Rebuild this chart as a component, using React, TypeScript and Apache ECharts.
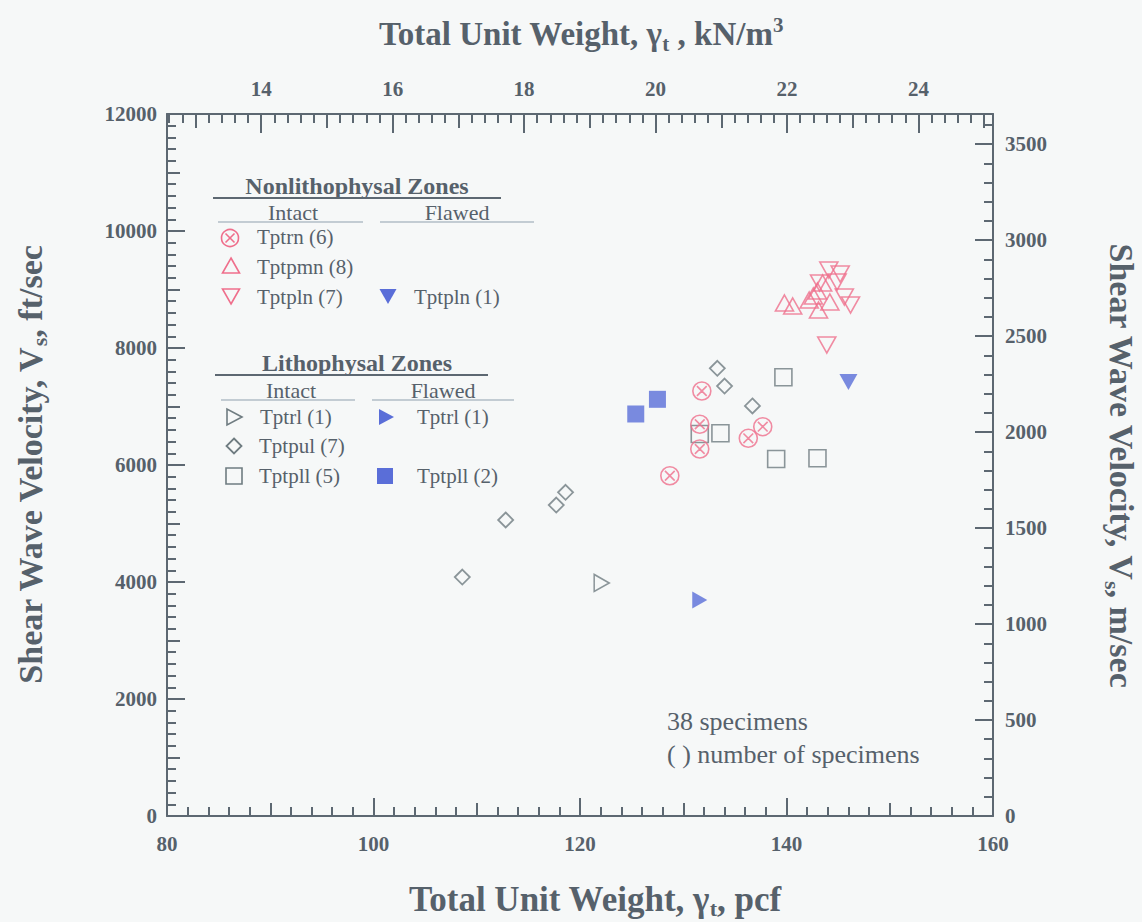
import React, { useEffect, useRef } from "react";
import * as echarts from "echarts";

// unit conversions
const PCF_TO_KN = 0.1570875;
const FTS_TO_MS = 0.3048;

// axis ranges / labels
const X_MIN = 80;
const X_MAX = 160;
const Y_MIN = 0;
const Y_MAX = 12000;
const BOTTOM_LABELS = [80, 100, 120, 140, 160];
const TOP_LABELS = [14, 16, 18, 20, 22, 24];
const TOP_MEDIUM = [13, 14, 15, 16, 17, 18, 19, 20, 21, 22, 23, 24, 25];
const RIGHT_LABELS = [0, 500, 1000, 1500, 2000, 2500, 3000, 3500];

// data: [total unit weight (pcf), shear wave velocity (ft/sec)]
const tptrnIntact = [
  [131.8, 7265], [131.6, 6696], [131.6, 6273], [136.3, 6456], [137.7, 6655], [128.7, 5817],
];
const tptpmnIntact = [
  [139.8, 8769], [140.6, 8718], [142.2, 8821], [143.1, 8650], [143.0, 8974], [144.2, 8786],
  [143.5, 9111], [142.6, 8889],
];
const tptplnIntact = [
  [144.1, 9333], [145.2, 9265], [145.6, 8872], [146.2, 8735], [143.9, 8051], [144.9, 9128],
  [143.2, 9111],
];
const tptplnFlawed = [[146.0, 7419]];
const tptrlIntact = [[122.1, 3983]];
const tptrlFlawed = [[131.6, 3692]];
const tptpulIntact = [
  [108.6, 4085], [112.8, 5060], [117.7, 5316], [118.6, 5533], [133.3, 7653], [134.0, 7350],
  [136.7, 7009],
];
const tptpllIntact = [[139.7, 7499], [131.6, 6530], [133.6, 6542], [139.0, 6103], [143.0, 6115]];
const tptpllFlawed = [[127.5, 7123], [125.4, 6872]];

const PINK = "#ef6f8c";
const GRAY = "#6f7c81";
const BLUE = "#5a6ed8";
const TEXT = "#56616b";
const AXIS = "#5d6872";
const BG = "#f6f8f8";
const FONT = "'Liberation Serif', 'Times New Roman', serif";
const CLEAR = "rgba(0,0,0,0)";

const CIRCLE_X =
  "path://M10 0A10 10 0 1 1 10 20A10 10 0 1 1 10 0ZM4.6 4.6L15.4 15.4M15.4 4.6L4.6 15.4";

function range(a: number, b: number, step: number) {
  const out: number[] = [];
  for (let i = Math.round(a / step); i <= Math.round(b / step); i++) out.push(+(i * step).toFixed(4));
  return out;
}

export default function App() {
  const ref = useRef<HTMLDivElement>(null);

  useEffect(() => {
    if (!ref.current) return;
    const chart = echarts.init(ref.current, undefined, { renderer: "svg" });

    const kMin = X_MIN * PCF_TO_KN;
    const kMax = X_MAX * PCF_TO_KN;
    const topMinor = range(12.6, 25.0, 0.2);
    const msMax = Y_MAX * FTS_TO_MS;

    const labelStyle = { fontFamily: FONT, fontWeight: "bold" as const, fontSize: 21, color: TEXT };
    const line = { show: true, onZero: false, lineStyle: { color: AXIS, width: 2 } };
    const noLine = { show: false, onZero: false };

    const xAxis: any[] = [
      {
        type: "value", position: "bottom", min: X_MIN, max: X_MAX, interval: 20,
        axisLine: line,
        axisTick: { inside: true, length: 18, lineStyle: { color: AXIS, width: 2 } },
        minorTick: { show: true, splitNumber: 10, length: 9, lineStyle: { color: AXIS, width: 2 } },
        axisLabel: { ...labelStyle, margin: 17, formatter: (v: number) => (BOTTOM_LABELS.includes(v) ? String(v) : "") },
        splitLine: { show: false }, minorSplitLine: { show: false },
      },
      {
        type: "value", position: "bottom", min: X_MIN, max: X_MAX, interval: 10,
        axisLine: noLine,
        axisTick: { inside: true, length: 13, lineStyle: { color: AXIS, width: 2 } },
        axisLabel: { show: false }, splitLine: { show: false },
      },
      {
        type: "value", position: "top", min: kMin, max: kMax,
        axisLine: line,
        axisTick: { inside: true, length: 9, customValues: topMinor, lineStyle: { color: AXIS, width: 2 } },
        axisLabel: { show: false }, splitLine: { show: false },
      },
      {
        type: "value", position: "top", min: kMin, max: kMax,
        axisLine: noLine,
        axisTick: { inside: true, length: 14, customValues: TOP_MEDIUM, lineStyle: { color: AXIS, width: 2 } },
        axisLabel: { show: false }, splitLine: { show: false },
      },
      {
        type: "value", position: "top", min: kMin, max: kMax,
        axisLine: noLine,
        axisTick: { inside: true, length: 19, customValues: TOP_LABELS, lineStyle: { color: AXIS, width: 2 } },
        axisLabel: { ...labelStyle, margin: 15, customValues: TOP_LABELS },
        splitLine: { show: false },
      },
    ];

    const yAxis: any[] = [
      {
        type: "value", position: "left", min: Y_MIN, max: Y_MAX, interval: 2000,
        axisLine: line,
        axisTick: { inside: true, length: 18, lineStyle: { color: AXIS, width: 2 } },
        minorTick: { show: true, splitNumber: 10, length: 9, lineStyle: { color: AXIS, width: 2 } },
        axisLabel: { ...labelStyle, margin: 10, formatter: (v: number) => String(v) },
        splitLine: { show: false }, minorSplitLine: { show: false },
      },
      {
        type: "value", position: "left", min: Y_MIN, max: Y_MAX, interval: 1000,
        axisLine: noLine,
        axisTick: { inside: true, length: 13, lineStyle: { color: AXIS, width: 2 } },
        axisLabel: { show: false }, splitLine: { show: false },
      },
      {
        type: "value", position: "right", min: 0, max: msMax, interval: 100,
        axisLine: line,
        axisTick: { inside: true, length: 9, lineStyle: { color: AXIS, width: 2 } },
        axisLabel: {
          ...labelStyle, margin: 12,
          formatter: (v: number) =>
            RIGHT_LABELS.includes(Math.round(v)) && Math.abs(v - Math.round(v)) < 1e-6 ? String(Math.round(v)) : "",
        },
        splitLine: { show: false },
      },
      {
        type: "value", position: "right", min: 0, max: msMax, interval: 500,
        axisLine: noLine,
        axisTick: { inside: true, length: 18, lineStyle: { color: AXIS, width: 2 } },
        axisLabel: { show: false }, splitLine: { show: false },
      },
    ];

    const open = (c: string, w = 1.6) => ({ color: CLEAR, borderColor: c, borderWidth: w });
    const filled = (c: string) => ({ color: c, borderColor: c, borderWidth: 0 });

    const series: any[] = [
      { name: "Tptpul (7)", data: tptpulIntact, symbol: "diamond", symbolSize: 15, itemStyle: open(GRAY, 1.8) },
      { name: "Tptpll (5)", data: tptpllIntact, symbol: "rect", symbolSize: 17, itemStyle: open(GRAY, 1.6) },
      { name: "Tptpll (2)", data: tptpllFlawed, symbol: "rect", symbolSize: 17, itemStyle: filled(BLUE) },
      { name: "Tptrl (1)", data: tptrlIntact, symbol: "triangle", symbolSize: [17, 15], symbolRotate: -90, itemStyle: open(GRAY, 1.6) },
      { name: "Tptrl (1) f", data: tptrlFlawed, symbol: "triangle", symbolSize: [17, 15], symbolRotate: -90, itemStyle: filled(BLUE) },
      { name: "Tptrn (6)", data: tptrnIntact, symbol: CIRCLE_X, symbolSize: 18, itemStyle: open(PINK, 1.6) },
      { name: "Tptpmn (8)", data: tptpmnIntact, symbol: "triangle", symbolSize: [18, 16], itemStyle: open(PINK, 1.6) },
      { name: "Tptpln (7)", data: tptplnIntact, symbol: "triangle", symbolSize: [18, 16], symbolRotate: 180, itemStyle: open(PINK, 1.6) },
      { name: "Tptpln (1)", data: tptplnFlawed, symbol: "triangle", symbolSize: [18, 16], symbolRotate: 180, itemStyle: filled(BLUE) },
    ].map((s) => ({ type: "scatter", xAxisIndex: 0, yAxisIndex: 0, ...s }));

    // ---------- legend & annotations (graphic) ----------
    const g: any[] = [];
    const txt = (x: number, y: number, text: string, opts: any = {}) =>
      g.push({
        type: "text", x, y, silent: true,
        style: { text, font: `${opts.bold ? "bold " : ""}${opts.size || 21}px ${FONT}`, fill: TEXT, textAlign: opts.align || "left", textVerticalAlign: "middle" },
      });
    const hline = (x1: number, x2: number, y: number, w = 1, c = "#8fa0ae") =>
      g.push({ type: "line", silent: true, shape: { x1, y1: y, x2, y2: y }, style: { stroke: c, lineWidth: w } });
    const st = (c: string) => ({ fill: "none", stroke: c, lineWidth: 1.6 });
    const fl = (c: string) => ({ fill: c, stroke: c, lineWidth: 0 });
    const circleX = (cx: number, cy: number) => {
      g.push({ type: "circle", silent: true, shape: { cx, cy, r: 8.5 }, style: st(PINK) });
      g.push({ type: "line", silent: true, shape: { x1: cx - 4.5, y1: cy - 4.5, x2: cx + 4.5, y2: cy + 4.5 }, style: st(PINK) });
      g.push({ type: "line", silent: true, shape: { x1: cx + 4.5, y1: cy - 4.5, x2: cx - 4.5, y2: cy + 4.5 }, style: st(PINK) });
    };
    const poly = (pts: number[][], style: any) => g.push({ type: "polygon", silent: true, shape: { points: pts }, style });
    const triUp = (cx: number, cy: number, style: any) => poly([[cx, cy - 8], [cx + 8.5, cy + 7], [cx - 8.5, cy + 7]], style);
    const triDown = (cx: number, cy: number, style: any) => poly([[cx, cy + 8], [cx + 8.5, cy - 7], [cx - 8.5, cy - 7]], style);
    const triRight = (cx: number, cy: number, style: any) => poly([[cx + 8, cy], [cx - 7, cy - 8], [cx - 7, cy + 8]], style);
    const diamond = (cx: number, cy: number, style: any) => poly([[cx, cy - 7.5], [cx + 7.5, cy], [cx, cy + 7.5], [cx - 7.5, cy]], style);
    const square = (cx: number, cy: number, style: any) =>
      g.push({ type: "rect", silent: true, shape: { x: cx - 8, y: cy - 8, width: 16, height: 16 }, style });

    // Nonlithophysal
    txt(357, 186, "Nonlithophysal Zones", { bold: true, size: 24, align: "center" });
    hline(213, 501, 198, 2.2, "#5d6872");
    txt(293, 212, "Intact", { align: "center", size: 22 });
    txt(457, 212, "Flawed", { align: "center", size: 22 });
    hline(218, 363, 222);
    hline(380, 534, 222);
    circleX(230, 238); txt(257, 237, "Tptrn (6)");
    triUp(231, 266, st(PINK)); txt(257, 267, "Tptpmn (8)");
    triDown(231, 296, st(PINK)); txt(257, 297, "Tptpln (7)");
    triDown(388, 296, fl(BLUE)); txt(414, 297, "Tptpln (1)");
    // Lithophysal
    txt(357, 363, "Lithophysal Zones", { bold: true, size: 24, align: "center" });
    hline(215, 488, 375, 2.2, "#5d6872");
    txt(291, 390, "Intact", { align: "center", size: 22 });
    txt(443, 390, "Flawed", { align: "center", size: 22 });
    hline(221, 355, 400);
    hline(372, 514, 400);
    triRight(234, 417, st(GRAY)); txt(260, 417, "Tptrl (1)");
    triRight(386, 417, fl(BLUE)); txt(417, 417, "Tptrl (1)");
    diamond(234, 446, { ...st(GRAY), lineWidth: 1.8 }); txt(259, 446, "Tptpul (7)");
    square(234, 476, st(GRAY)); txt(259, 476, "Tptpll (5)");
    square(385, 476, fl(BLUE)); txt(417, 476, "Tptpll (2)");

    // note
    txt(667, 721, "38 specimens", { size: 26 });
    txt(667, 754, "( ) number of specimens", { size: 26 });

    // axis titles with sub/superscripts
    const richFor = (size: number, sub: number) => ({
      m: { fontFamily: FONT, fontWeight: "bold", fontSize: size, lineHeight: 40, fill: TEXT, color: TEXT },
      s: { fontFamily: FONT, fontWeight: "bold", fontSize: sub, lineHeight: 40, verticalAlign: "bottom", fill: TEXT, color: TEXT },
      p: { fontFamily: FONT, fontWeight: "bold", fontSize: sub, lineHeight: 40, verticalAlign: "top", fill: TEXT, color: TEXT },
    });
    const title = (x: number, y: number, text: string, rotation = 0, size = 33) =>
      g.push({
        type: "text", x, y, rotation, silent: true,
        style: { text, rich: richFor(size, Math.round(size * 0.64)), fill: TEXT, textAlign: "center", textVerticalAlign: "middle" },
      });
    title(595, 899, "{m|Total Unit Weight, γ}{s|t}{m|, pcf}", 0, 35);
    title(581, 34, "{m|Total Unit Weight, γ}{s|t}{m| , kN/m}{p|3}", 0, 33);
    title(30, 465, "{m|Shear Wave Velocity, V}{s|s}{m|, ft/sec}", Math.PI / 2, 34);
    title(1121, 465, "{m|Shear Wave Velocity, V}{s|s}{m|, m/sec}", -Math.PI / 2, 34);

    chart.setOption({
      animation: false,
      backgroundColor: BG,
      grid: { left: 167, top: 114, width: 826, height: 702, containLabel: false, outerBoundsMode: "none" },
      xAxis,
      yAxis,
      series,
      graphic: { elements: g },
    });

    return () => chart.dispose();
  }, []);

  return (
    <div
      ref={ref}
      style={{ position: "fixed", left: 0, top: 0, width: 1142, height: 922, background: BG }}
    />
  );
}
